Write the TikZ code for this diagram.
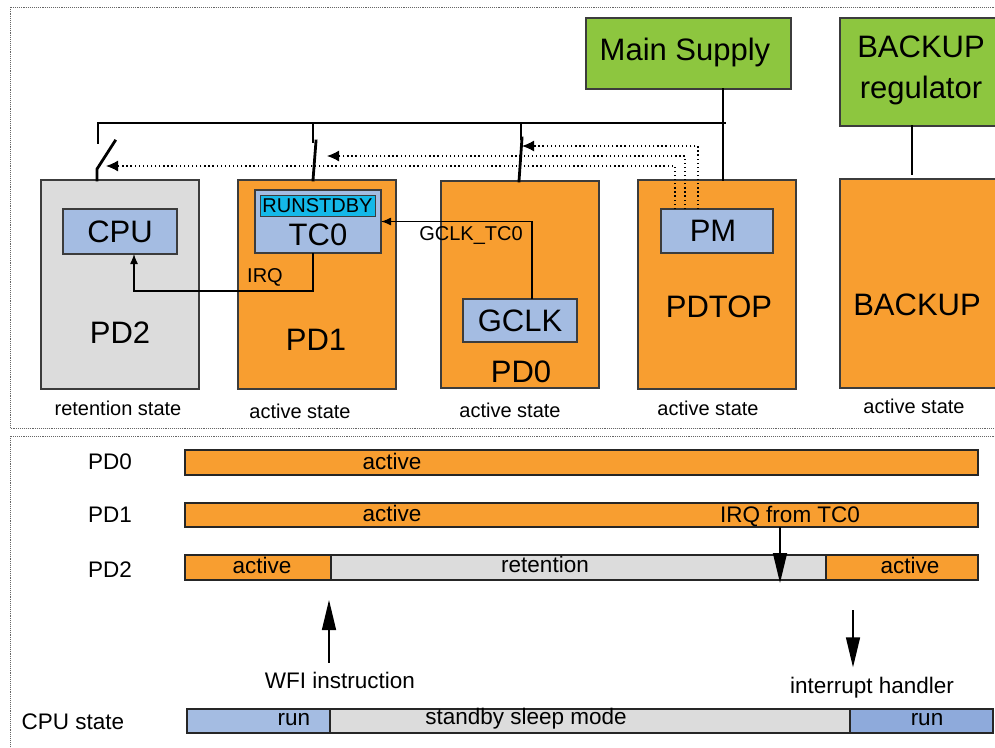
\documentclass[tikz,border=0pt]{standalone}
\usepackage{fontspec}
\setmainfont{Liberation Sans}
\usetikzlibrary{arrows.meta,calc}
\definecolor{orng}{RGB}{248,158,48}
\definecolor{grn}{RGB}{141,198,63}
\definecolor{lblue}{RGB}{164,188,226}
\definecolor{dblue}{RGB}{142,170,219}
\definecolor{lgray}{RGB}{220,220,220}
\definecolor{cyanb}{RGB}{20,184,232}
\definecolor{edge}{RGB}{60,60,60}
\tikzset{
  box/.style={draw=edge,line width=1.2pt,inner sep=0pt,outer sep=0pt},
  pdbox/.style={box,fill=orng,minimum width=158pt,minimum height=209pt},
  subbox/.style={box,fill=lblue},
  supbox/.style={box,fill=grn},
  bar/.style={draw=black!85,line width=1.5pt,inner sep=0pt,outer sep=0pt,minimum height=24pt},
  bigt/.style={font=\fontsize{31}{41}\selectfont,inner sep=0pt},
  midt/.style={font=\fontsize{22.5}{26}\selectfont,inner sep=0pt},
  smallt/.style={font=\fontsize{20}{24}\selectfont,inner sep=0pt},
  bus/.style={line width=2.8pt,line cap=rect},
  conn/.style={line width=1.3pt,-{Latex[length=10pt,width=8pt]}},
  dotconn/.style={line width=1.3pt,dash pattern=on 1.3pt off 2.8pt,-{Latex[length=12pt,width=11pt]}},
  bigarrow/.style={line width=1.5pt,-{Triangle[length=30pt,width=14pt]}},
  frame/.style={densely dotted,draw=black!60,line width=0.9pt}
}
\begin{document}
\begin{tikzpicture}[x=1pt,y=-1pt]
\useasboundingbox (0,0) rectangle (995,747);
\clip (0,0) rectangle (995,747);
\fill[white] (0,0) rectangle (995,747);
% frames
\draw[frame] (1000,7) -- (10,7) -- (10,428) -- (1000,428);
\draw[frame] (1000,436) -- (10,436) -- (10,752);

% supplies
\node[supbox,minimum width=205pt,minimum height=71pt] (main) at (688.5,53.5) {};
\node[bigt] (maint) at (685,52) {Main Supply};
\node[supbox,minimum width=162pt,minimum height=108pt] (bkreg) at (921,72) {};
\node[bigt,align=center] (bkregt) at (921,70) {BACKUP\\regulator};

% power domains
\node[pdbox,fill=lgray] (pd2) at (120,284.5) {};
\node[pdbox] (pd1) at (317,284.5) {};
\node[pdbox,minimum height=207pt] (pd0) at (520,284.5) {};
\node[pdbox] (pdtop) at (717,284.5) {};
\node[pdbox] (bkp) at (919,283.5) {};

% sub modules
\node[subbox,minimum width=114pt,minimum height=45pt] (cpu) at (120,231.5) {};
\node[bigt] (cput) at (120,232) {CPU};
\node[subbox,minimum width=126pt,minimum height=63pt] (tc0) at (318,221.5) {};
\node[box,fill=cyanb,line width=1pt,minimum width=115pt,minimum height=21pt] (rsb) at (317.5,205.5) {};
\node[smallt] (rsbt) at (317.5,206) {RUNSTDBY};
\node[bigt] (tc0t) at (318,235) {TC0};
\node[subbox,minimum width=114pt,minimum height=43pt] (gclk) at (520,320.5) {};
\node[bigt] (gclkt) at (520,321) {GCLK};
\node[subbox,minimum width=112pt,minimum height=44pt] (pm) at (717,231) {};
\node[bigt] (pmt) at (713,231) {PM};

% domain labels
\node[bigt] (pd2t) at (120,333) {PD2};
\node[bigt] (pd1t) at (316,340) {PD1};
\node[bigt] (pd0t) at (521,372) {PD0};
\node[bigt] (pdtopt) at (719,307) {PDTOP};
\node[bigt] (bkpt) at (917,305) {BACKUP};

% states
\node[smallt] (s2) at (118,408) {retention state};
\node[smallt] (s1) at (300,411) {active state};
\node[smallt] (s0) at (510,410) {active state};
\node[smallt] (st) at (708,408) {active state};
\node[smallt] (sb) at (914,406) {active state};

% power bus
\coordinate (busL) at (98,123);
\coordinate (busR) at (725,123);
\draw[bus] (main.south -| 723,0) -- (pdtop.north -| 723,0);
\draw[bus] (98,143) -- (busL) -- (busR);
\draw[bus] (bkreg.south -| 912,0) -- (912,174);
% PD2 switch (open)
\draw[bus] (97,180) -- (97,169) -- (115,141);
% PD1 switch (closed)
\draw[bus] (313,123) -- (313,142);
\draw[bus] (316,141) -- (313,180);
% PD0 switch (closed)
\draw[bus] (521,123) -- (521,139);
\draw[bus] (522,138) -- (519,181);

% control from PM
\coordinate (sw0) at (522,146);
\coordinate (sw1) at (327,156);
\coordinate (sw2) at (106,166);
\draw[dotconn] ([xshift=37pt]pm.north west) |- (sw0);
\draw[dotconn] ([xshift=24pt]pm.north west) |- (sw1);
\draw[dotconn] ([xshift=14pt]pm.north west) |- (sw2);

% IRQ and clock
\draw[conn] ([xshift=-5pt]tc0.south) -- ++(0,38) -| ([xshift=14pt]cpu.south);
\node[smallt] (irqt) at (265,277) {IRQ};
\draw[conn] ([xshift=12pt]gclk.north) |- (tc0.east);
\node[smallt] (gclktc) at (471,235) {GCLK\_TC0};

% ---------- timing diagram ----------
\node[midt] (l0) at (110,462) {PD0};
\node[midt] (l1) at (110,515) {PD1};
\node[midt] (l2) at (110,570) {PD2};
\node[midt] (lc) at (73,722) {CPU state};

\node[bar,fill=orng,minimum width=793pt,minimum height=25pt] (b0) at (581.5,462.5) {};
\node[midt] at (392,461) {active};
\node[bar,fill=orng,minimum width=793pt] (b1) at (581.5,515) {};
\node[midt] at (392,513) {active};
\node[midt] (irqft) at (790,516) {IRQ from TC0};

\node[bar,fill=orng,minimum width=146pt,minimum height=25pt] (b2a) at (258,567.5) {};
\node[bar,fill=lgray,minimum width=495pt,minimum height=25pt] (b2b) at (578.5,567.5) {};
\node[bar,fill=orng,minimum width=152pt,minimum height=25pt] (b2c) at (902,567.5) {};
\node[midt] at (262,565) {active};
\node[midt] at (545,564) {retention};
\node[midt] at (910,565) {active};

\coordinate (irqtip) at (780,583);
\draw[bigarrow] (b1.south -| irqtip) -- (irqtip);

\node[midt] (wfi) at (340,680) {WFI instruction};
\coordinate (wfitip) at (329,600);
\draw[bigarrow] (wfi.north -| wfitip) ++(0,-9) -- (wfitip);
\node[midt] (ih) at (872,688) {interrupt handler};
\coordinate (ihtop) at (853,610);
\draw[bigarrow] (ihtop) -- ($(ih.north -| ihtop)+(0,-10)$);

\node[bar,fill=lblue,minimum width=143pt] (c1) at (258.5,721) {};
\node[bar,fill=lgray,minimum width=520pt] (c2) at (590,721) {};
\node[bar,fill=dblue,minimum width=143pt] (c3) at (921.5,721) {};
\node[midt] at (294,720) {run};
\node[midt] at (526,719) {standby sleep mode};
\node[midt] at (927,720) {run};
\end{tikzpicture}
\end{document}
